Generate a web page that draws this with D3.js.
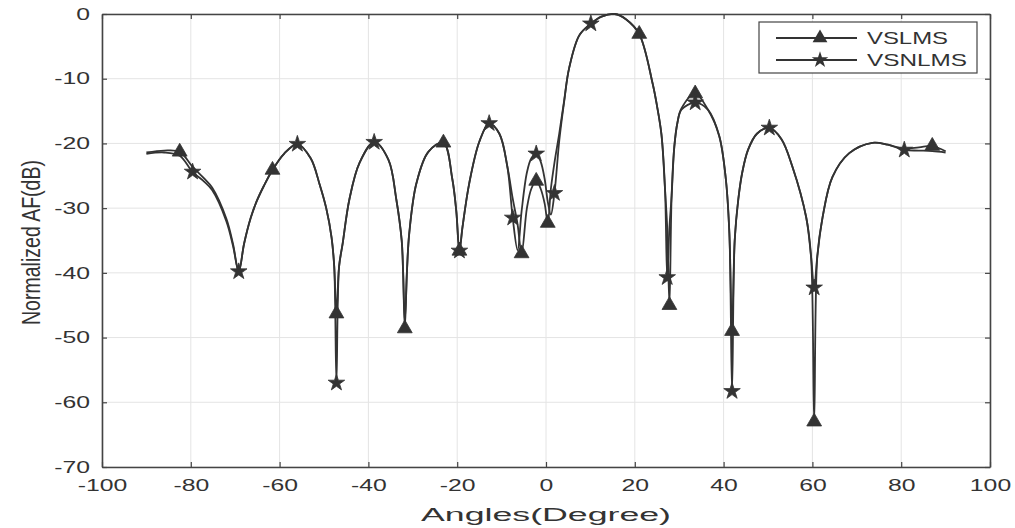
<!DOCTYPE html>
<html>
<head>
<meta charset="utf-8">
<script src="https://cdn.jsdelivr.net/npm/d3@7"></script>
<style>
  body { margin: 0; background: #fff; }
  svg { display: block; font-family: "Liberation Sans", Arial, sans-serif; }
</style>
</head>
<body>
<div id="chart"></div>
<script>
const width = 1015;
const height = 528;
const margin = ({top: 14, right: 25, bottom: 61, left: 102});

// angle grid (degrees) shared by both curves
const angles = [-90, -86, -82.5, -79.6, -77, -75.2, -72, -70.5, -69.2, -68, -66.5, -65.2, -63.5, -61.6,
  -59, -56, -53, -51, -49.5, -48.3, -47.7, -47.2, -46.6, -45.8, -44.3, -42, -38.7, -35.5, -33.7,
  -32.5, -32.2, -31.8, -31.3, -30.8, -29.2, -26.5, -23.1, -21.1, -20.2, -19.5, -18.8, -17.3, -15,
  -12.8, -10.5, -8.7, -7.5, -6.4, -5.5, -4.3, -3.3, -2.2, -1.2, -0.3, 0.4, 1.1, 1.9, 3, 4.1, 5.2,
  7.5, 10.1, 12.5, 15.5, 18, 21, 24, 25, 26, 26.8, 27.3, 27.8, 28.3, 28.9, 29.6, 30.5, 33.6, 36.5, 39, 40.5,
  41.3, 41.9, 42.5, 43.3, 44.2, 45.5, 47.5, 50.3, 53, 55.5, 58.6, 59.7, 60.4, 61.1, 62.3, 64.5,
  68.3, 73.5, 77, 80.7, 84, 87, 90];

const vslms = [-21.4, -21.1, -21.3, -23.6, -25.4, -26.8, -31.6, -35.5, -39.8, -35.5, -31.5, -29, -26.5, -24.1,
  -21.6, -20.1, -22.3, -26.3, -30, -34.5, -39, -46.3, -39, -35.5, -28.7, -23, -19.8, -22.5, -28.7,
  -35, -39.5, -48.6, -39.5, -33.9, -26.2, -21.3, -19.9, -25.5, -30.5, -36.6, -32.9, -26.2, -19.7,
  -16.9, -18.5, -23.6, -28.5, -32.5, -37, -30, -27, -25.8, -27, -29.3, -32.3, -27, -23, -18.4, -13.3, -8.4,
  -3.3, -1.5, -0.4, 0, -0.8, -3.1, -10.7, -14.2, -18.6, -27, -33, -45, -28, -20.5, -16.8, -14.6, -12.3, -14.8, -18.8, -25.5,
  -33.9, -49, -35, -28.7, -24.5, -21, -18.5, -17.6, -19.3, -23.6, -31.4, -37.5, -63, -37.5, -31.4, -25.2,
  -21.5, -19.9, -20.2, -20.8, -20.6, -20.4, -21.2];

const vsnlms = [-21.6, -21.4, -21.9, -24.4, -25.9, -27.2, -32, -35.8, -39.8, -35.5, -31.5, -29, -26.5, -24.1,
  -21.6, -20.1, -22.3, -26.3, -30, -34.5, -39, -57, -39, -35.5, -28.7, -23, -19.8, -22.5, -28.7,
  -35, -39.5, -47.5, -39.5, -33.9, -26.2, -21.3, -19.9, -25.5, -30.5, -36.6, -32.9, -26.2, -19.7,
  -16.9, -18.5, -23.6, -31.5, -36.5, -30.5, -24.5, -22.3, -21.6, -22.8, -25.5, -29, -31, -27.7, -19.5, -13.5, -8.4,
  -3.3, -1.5, -0.4, 0, -0.8, -3.1, -10.7, -14.2, -18.6, -27, -40.7, -33, -28, -20.5, -16.8, -14.8, -13.7, -14.8, -18.8, -25.5,
  -33.9, -58.3, -35, -28.7, -24.5, -21, -18.5, -17.6, -19.3, -23.6, -31.4, -37.5, -42.3, -37.5, -31.4, -25.2,
  -21.5, -19.9, -20.2, -21, -21.1, -21.2, -21.4];

// angles where the markers sit
const vslmsMarks = [-82.5, -61.6, -47.2, -31.8, -23.1, -19.5, -5.5, -2.2, 0.4, 21, 27.8, 33.6, 41.9, 60.4, 87];
const vsnlmsMarks = [-79.6, -69.2, -56, -47.2, -38.7, -19.5, -12.8, -7.5, -2.2, 1.9, 10.1, 27.3, 33.6, 41.9, 50.3, 60.4, 80.7];

const xTicks = [-100, -80, -60, -40, -20, 0, 20, 40, 60, 80, 100];
const yTicks = [0, -10, -20, -30, -40, -50, -60, -70];
const seriesNames = ["VSLMS", "VSNLMS"];

const ink = "#333";
const stretch = 1.5;

const svg = d3.select("#chart").append("svg")
  .attr("width", width)
  .attr("height", height);

const x = d3.scaleLinear()
  .domain([-100, 100])
  .range([margin.left, width - margin.right]);

const y = d3.scaleLinear()
  .domain([-70, 0])
  .range([height - margin.bottom, margin.top]);

// grid
svg.append("g")
  .selectAll("line")
  .data(xTicks)
  .join("line")
  .attr("x1", d => x(d)).attr("x2", d => x(d))
  .attr("y1", y(0)).attr("y2", y(-70))
  .attr("stroke", "#e4e4e4");

svg.append("g")
  .selectAll("line")
  .data(yTicks)
  .join("line")
  .attr("x1", x(-100)).attr("x2", x(100))
  .attr("y1", d => y(d)).attr("y2", d => y(d))
  .attr("stroke", "#e4e4e4");

// axes, matlab style inward ticks, plain hyphen minus
const fmt = d => String(d);

const styleAxis = g => g
  .call(g => g.select(".domain").attr("stroke", "#444").attr("stroke-width", 1.6))
  .call(g => g.selectAll(".tick line").attr("stroke", "#444").attr("stroke-width", 1.2))
  .call(g => g.selectAll(".tick text")
    .attr("fill", ink)
    .attr("font-size", 16.5)
    .attr("font-family", "Liberation Sans, Arial, sans-serif")
    .attr("transform", `scale(${stretch},1)`));

svg.append("g")
  .attr("transform", `translate(0,${y(-70)})`)
  .call(d3.axisBottom(x).tickValues(xTicks).tickFormat(fmt).tickSize(-5).tickSizeOuter(0).tickPadding(12))
  .call(styleAxis);

svg.append("g")
  .attr("transform", `translate(${x(-100)},0)`)
  .call(d3.axisLeft(y).tickValues(yTicks).tickFormat(fmt).tickSize(-5).tickSizeOuter(0).tickPadding(8))
  .call(styleAxis);

svg.append("g")
  .attr("transform", `translate(0,${y(0)})`)
  .call(d3.axisTop(x).tickValues(xTicks).tickSize(-5).tickSizeOuter(0).tickFormat(""))
  .call(styleAxis);

svg.append("g")
  .attr("transform", `translate(${x(100)},0)`)
  .call(d3.axisRight(y).tickValues(yTicks).tickSize(-5).tickSizeOuter(0).tickFormat(""))
  .call(styleAxis);

// curves
const line = d3.line()
  .x(d => x(d[0]))
  .y(d => y(d[1]))
  .curve(d3.curveCatmullRom.alpha(0.5));

const series = [
  {name: seriesNames[0], values: vslms, marks: vslmsMarks, symbol: d3.symbolTriangle, size: 95},
  {name: seriesNames[1], values: vsnlms, marks: vsnlmsMarks, symbol: d3.symbolStar, size: 85}
];

series.forEach(s => {
  svg.append("path")
    .datum(angles.map((a, i) => [a, s.values[i]]))
    .attr("fill", "none")
    .attr("stroke", ink)
    .attr("stroke-width", 1.8)
    .attr("d", line);
});

series.forEach(s => {
  svg.append("g")
    .selectAll("path")
    .data(s.marks.map(a => [a, s.values[angles.indexOf(a)]]))
    .join("path")
    .attr("transform", d => `translate(${x(d[0])},${y(d[1])})`)
    .attr("d", d3.symbol(s.symbol, s.size))
    .attr("fill", ink)
    .attr("stroke", ink)
    .attr("stroke-width", 0.8);
});

// axis labels
svg.append("text")
  .attr("x", (x(-100) + x(100)) / 2)
  .attr("y", 521)
  .attr("text-anchor", "middle")
  .attr("font-size", 18)
  .attr("fill", ink)
  .attr("textLength", 250)
  .attr("lengthAdjust", "spacingAndGlyphs")
  .text("Angles(Degree)");

svg.append("text")
  .attr("transform", `translate(40,${(y(0) + y(-70)) / 2 + 2}) rotate(-90) scale(1,1.5)`)
  .attr("text-anchor", "middle")
  .attr("font-size", 17)
  .attr("fill", ink)
  .attr("textLength", 165)
  .attr("lengthAdjust", "spacingAndGlyphs")
  .text("Normalized AF(dB)");

// legend
const legend = svg.append("g").attr("transform", "translate(759,22)");

legend.append("rect")
  .attr("width", 218)
  .attr("height", 51)
  .attr("fill", "#fff")
  .attr("stroke", "#444")
  .attr("stroke-width", 1.2);

series.forEach((s, i) => {
  const row = legend.append("g").attr("transform", `translate(0,${16 + i * 22})`);
  row.append("line")
    .attr("x1", 17).attr("x2", 98)
    .attr("stroke", ink)
    .attr("stroke-width", 1.8);
  row.append("path")
    .attr("transform", "translate(61,0)")
    .attr("d", d3.symbol(s.symbol, s.size))
    .attr("fill", ink);
  row.append("text")
    .attr("x", 108)
    .attr("y", 6)
    .attr("font-size", 16.5)
    .attr("fill", ink)
    .attr("textLength", i === 0 ? 81 : 100)
    .attr("lengthAdjust", "spacingAndGlyphs")
    .text(s.name);
});
</script>
</body>
</html>
